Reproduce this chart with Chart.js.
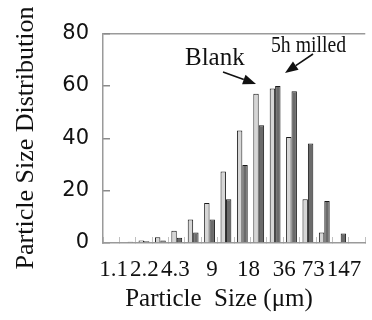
<!DOCTYPE html>
<html>
<head>
<meta charset="utf-8">
<script src="https://cdn.jsdelivr.net/npm/chart.js@4/dist/chart.umd.min.js"></script>
<style>
  html, body { margin: 0; padding: 0; background: #fff; overflow: hidden; }
  canvas { display: block; }
</style>
</head>
<body>
<canvas id="psd" width="375" height="320"></canvas>
<script>
// bins (first and last are empty slots, as in the original figure)
var bins = ['', 'b1', 'b2', 'b3', 'b4', 'b5', 'b6', 'b7', 'b8', 'b9', 'b10', 'b11', 'b12', 'b13', 'b14', ''];
var blank = [null, 0.3, 1, 2.2, 4.7, 9, 15.3, 27.3, 43, 57, 59, 40.5, 16.7, 4, 0.3, null];
var milled = [null, 0.5, 0.7, 1, 2, 4, 9, 16.7, 29.8, 45, 60, 58, 38, 16, 3.6, null];

// size labels and where they sit along the bin axis
var sizeLabels = ['1.1', '2.2', '4.3', '9', '18', '36', '73', '147'];
var labelAt = [0.15, 2.03, 3.91, 6.15, 8.38, 10.56, 12.32, 14.2];

var yTicks = [0, 20, 40, 60, 80];

var serif = '"Liberation Serif", "Times New Roman", serif';
var wideSans = '"DejaVu Sans", sans-serif';

function arrow(ctx, x1, y1, x2, y2) {
  var a = Math.atan2(y2 - y1, x2 - x1);
  var len = 13, w = 5;
  ctx.beginPath();
  ctx.moveTo(x1, y1);
  ctx.lineTo(x2 - len * Math.cos(a), y2 - len * Math.sin(a));
  ctx.lineWidth = 1.6;
  ctx.strokeStyle = '#111';
  ctx.stroke();
  ctx.beginPath();
  ctx.moveTo(x2, y2);
  ctx.lineTo(x2 - len * Math.cos(a) + w * Math.sin(a), y2 - len * Math.sin(a) - w * Math.cos(a));
  ctx.lineTo(x2 - len * Math.cos(a) - w * Math.sin(a), y2 - len * Math.sin(a) + w * Math.cos(a));
  ctx.closePath();
  ctx.fillStyle = '#111';
  ctx.fill();
}

var labelsPlugin = {
  id: 'labelsPlugin',
  afterDraw: function (chart) {
    var ctx = chart.ctx;
    ctx.save();
    ctx.fillStyle = '#111';

    // y title
    ctx.save();
    ctx.translate(33, 138);
    ctx.rotate(-Math.PI / 2);
    ctx.font = '26px ' + serif;
    ctx.textAlign = 'center';
    ctx.textBaseline = 'alphabetic';
    ctx.fillText('Particle Size Distribution', 0, 0);
    ctx.restore();

    // x title
    ctx.font = '25px ' + serif;
    ctx.textAlign = 'center';
    ctx.textBaseline = 'alphabetic';
    ctx.fillText('Particle  Size (\u03bcm)', 219, 306);

    // annotations
    ctx.textAlign = 'left';
    ctx.font = '25px ' + serif;
    ctx.fillText('Blank', 185, 65);
    ctx.font = '23px ' + serif;
    ctx.fillText('5h milled', 271, 52, 75);

    arrow(ctx, 223, 72, 256, 84);
    arrow(ctx, 313, 54, 285, 73);
    ctx.restore();
  }
};

var ctx = document.getElementById('psd').getContext('2d');

var chart = new Chart(ctx, {
  type: 'bar',
  data: {
    labels: bins,
    datasets: [{
      label: 'Blank',
      data: blank,
      backgroundColor: '#d6d6d6',
      borderColor: '#1a1a1a',
      borderWidth: 1,
      borderSkipped: 'bottom'
    }, {
      label: '5h milled',
      data: milled,
      backgroundColor: '#6b6b6b',
      borderColor: '#1a1a1a',
      borderWidth: 1,
      borderSkipped: 'bottom'
    }]
  },
  options: {
    responsive: false,
    animation: false,
    layout: { padding: { top: 23, left: 0, right: 0, bottom: 0 } },
    datasets: {
      bar: { categoryPercentage: 0.66, barPercentage: 1.0 }
    },
    plugins: {
      legend: { display: false },
      tooltip: { enabled: false },
      title: { display: false }
    },
    scales: {
      x: {
        type: 'category',
        position: 'bottom',
        offset: true,
        afterFit: function (scale) { scale.height = 0; },
        border: { display: true, color: '#9a9a9a', width: 1.5 },
        grid: {
          offset: true,
          drawOnChartArea: false,
          drawTicks: true,
          tickLength: -6,
          color: '#c0c0c0',
          lineWidth: 1
        },
        ticks: { display: false }
      },
      x2: {
        type: 'linear',
        axis: 'x',
        position: 'bottom',
        offset: false,
        min: -0.5,
        max: 15.5,
        afterFit: function (scale) { scale.height = 77; },
        afterBuildTicks: function (scale) {
          scale.ticks = labelAt.map(function (v) { return { value: v }; });
        },
        border: { display: false },
        grid: { display: false, drawTicks: false, offset: false },
        ticks: {
          autoSkip: false,
          maxRotation: 0,
          padding: 13,
          color: '#111',
          font: { family: serif, size: 23 },
          callback: function (v, i) { return sizeLabels[i]; }
        }
      },
      y: {
        min: 0,
        max: 80,
        afterFit: function (scale) { scale.width = 103; },
        afterBuildTicks: function (scale) {
          scale.ticks = yTicks.map(function (v) { return { value: v }; });
        },
        border: { display: true, color: '#9a9a9a', width: 1.5 },
        grid: {
          drawOnChartArea: true,
          color: function (c) { return c.tick && c.tick.value === 80 ? '#9a9a9a' : 'rgba(0,0,0,0)'; },
          tickColor: '#8a8a8a',
          tickWidth: 1.5,
          drawTicks: true,
          tickLength: -7,
          lineWidth: 1.5
        },
        ticks: {
          padding: 21,
          color: '#111',
          font: { family: wideSans, size: 21 }
        }
      }
    }
  },
  plugins: [labelsPlugin]
});
</script>
</body>
</html>
